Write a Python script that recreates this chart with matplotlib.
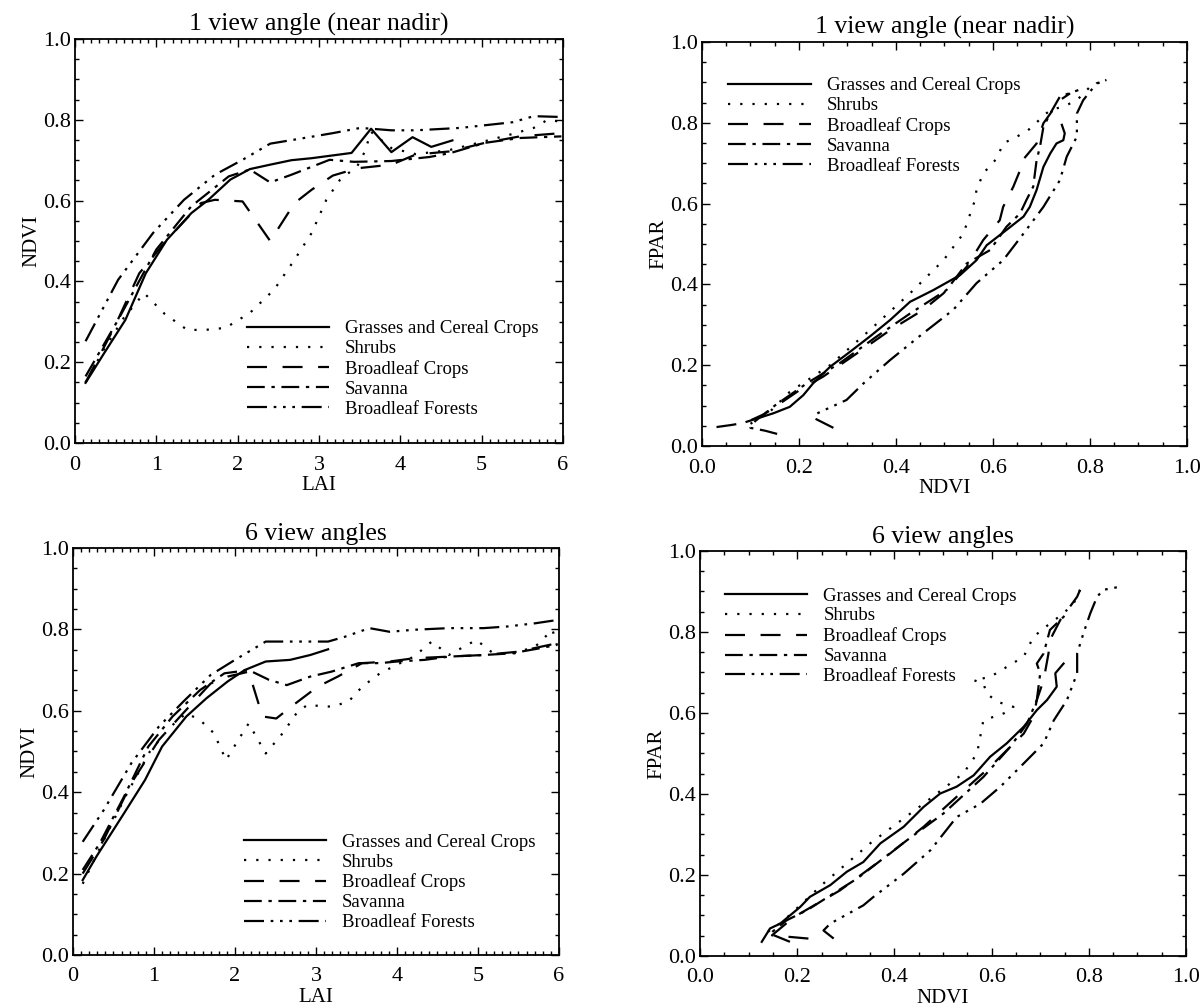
import matplotlib
matplotlib.use("Agg")
import matplotlib.pyplot as plt
from matplotlib.ticker import MultipleLocator, FormatStrFormatter

plt.rcParams['font.family'] = ['Liberation Serif', 'DejaVu Serif']

labels = ["Grasses and Cereal Crops", "Shrubs", "Broadleaf Crops", "Savanna", "Broadleaf Forests"]

# --- 1 view angle: NDVI vs LAI ---
nadir_lai_grass = [0.13, 0.36, 0.62, 0.87, 1.13, 1.43, 1.64, 1.91, 2.15, 2.40, 2.66, 2.91, 3.40, 3.64, 3.89, 4.15, 4.38, 4.64]
nadir_ndvi_grass = [0.149, 0.223, 0.305, 0.42, 0.503, 0.569, 0.602, 0.652, 0.678, 0.689, 0.70, 0.705, 0.718, 0.778, 0.72, 0.757, 0.733, 0.749]
nadir_lai_shrub = [0.13, 0.35, 0.6, 0.85, 1.1, 1.38, 1.6, 1.85, 2.15, 2.45, 2.70, 2.91, 3.09, 3.26, 3.47, 3.56, 3.64, 3.89, 4.19, 4.6, 5.0, 5.38, 5.64, 5.81, 5.98]
nadir_ndvi_shrub = [0.15, 0.23, 0.31, 0.371, 0.32, 0.28, 0.28, 0.285, 0.322, 0.38, 0.454, 0.52, 0.602, 0.652, 0.685, 0.72, 0.77, 0.73, 0.715, 0.725, 0.745, 0.765, 0.78, 0.80, 0.795]
nadir_lai_crop = [0.13, 0.49, 0.79, 1.13, 1.55, 1.72, 2.06, 2.40, 2.70, 2.91, 3.17, 3.47, 3.89, 4.19, 4.62, 5.04, 5.47, 5.98]
nadir_ndvi_crop = [0.15, 0.289, 0.42, 0.503, 0.594, 0.602, 0.598, 0.50, 0.594, 0.627, 0.662, 0.68, 0.689, 0.714, 0.722, 0.743, 0.759, 0.767]
nadir_lai_sav = [0.13, 0.53, 1.0, 1.43, 1.89, 2.15, 2.40, 2.66, 3.13, 3.43, 3.89, 4.36, 4.62, 5.04, 5.47, 5.98]
nadir_ndvi_sav = [0.165, 0.305, 0.479, 0.586, 0.66, 0.677, 0.645, 0.664, 0.701, 0.696, 0.698, 0.708, 0.718, 0.743, 0.755, 0.759]
nadir_lai_forest = [0.13, 0.53, 0.96, 1.34, 1.72, 2.06, 2.40, 2.70, 3.17, 3.51, 3.89, 4.19, 4.74, 5.38, 5.64, 5.98]
nadir_ndvi_forest = [0.252, 0.404, 0.52, 0.602, 0.664, 0.701, 0.741, 0.751, 0.767, 0.78, 0.774, 0.774, 0.78, 0.794, 0.809, 0.807]

# --- 1 view angle: FPAR vs NDVI ---
nadir_fx_grass = [0.092, 0.147, 0.181, 0.209, 0.229, 0.264, 0.305, 0.346, 0.388, 0.429, 0.477, 0.532, 0.566, 0.587, 0.628, 0.663, 0.676, 0.69, 0.704, 0.718, 0.731, 0.745, 0.748, 0.742]
nadir_fy_grass = [0.060, 0.081, 0.097, 0.126, 0.155, 0.196, 0.233, 0.271, 0.312, 0.357, 0.386, 0.423, 0.46, 0.497, 0.535, 0.568, 0.592, 0.634, 0.691, 0.724, 0.749, 0.757, 0.774, 0.795]
nadir_fx_shrub = [0.10, 0.14, 0.181, 0.264, 0.346, 0.429, 0.498, 0.539, 0.563, 0.566, 0.58, 0.608, 0.621, 0.669, 0.718, 0.745, 0.773, 0.80, 0.82]
nadir_fy_shrub = [0.055, 0.085, 0.134, 0.2, 0.287, 0.378, 0.46, 0.526, 0.609, 0.634, 0.675, 0.712, 0.749, 0.778, 0.832, 0.84, 0.856, 0.889, 0.90]
nadir_fx_crop = [0.03, 0.06, 0.09, 0.13, 0.202, 0.25, 0.319, 0.388, 0.456, 0.498, 0.546, 0.58, 0.614, 0.621, 0.642, 0.656, 0.656, 0.69, 0.704, 0.738, 0.759]
nadir_fy_crop = [0.047, 0.052, 0.058, 0.08, 0.139, 0.172, 0.229, 0.287, 0.337, 0.378, 0.444, 0.51, 0.559, 0.592, 0.642, 0.683, 0.70, 0.749, 0.799, 0.856, 0.873]
nadir_fx_sav = [0.155, 0.13, 0.10, 0.11, 0.15, 0.216, 0.284, 0.36, 0.429, 0.504, 0.546, 0.594, 0.628, 0.656, 0.669, 0.683, 0.69, 0.697, 0.704, 0.718, 0.738, 0.776]
nadir_fy_sav = [0.03, 0.038, 0.045, 0.062, 0.1, 0.155, 0.205, 0.271, 0.328, 0.386, 0.452, 0.485, 0.543, 0.576, 0.609, 0.642, 0.708, 0.741, 0.79, 0.823, 0.865, 0.881]
nadir_fx_forest = [0.271, 0.233, 0.236, 0.298, 0.333, 0.388, 0.456, 0.518, 0.566, 0.621, 0.663, 0.704, 0.738, 0.752, 0.773, 0.773, 0.786, 0.814, 0.834]
nadir_fy_forest = [0.045, 0.068, 0.08, 0.114, 0.155, 0.213, 0.279, 0.337, 0.403, 0.46, 0.526, 0.592, 0.658, 0.716, 0.766, 0.823, 0.856, 0.898, 0.906]

# --- 6 view angles: NDVI vs LAI ---
multi_lai_grass = [0.12, 0.29, 0.63, 0.89, 1.10, 1.40, 1.65, 1.91, 2.12, 2.38, 2.68, 2.93, 3.15]
multi_ndvi_grass = [0.184, 0.242, 0.348, 0.43, 0.512, 0.586, 0.631, 0.672, 0.70, 0.721, 0.725, 0.737, 0.751]
multi_lai_shrub = [0.12, 0.35, 0.65, 0.95, 1.2, 1.40, 1.57, 1.74, 1.89, 2.04, 2.17, 2.38, 2.59, 2.76, 2.89, 3.19, 3.40, 3.57, 3.79, 4.04, 4.21, 4.43, 4.64, 4.98, 5.19, 5.45, 5.71, 5.92, 5.98]
multi_ndvi_shrub = [0.175, 0.27, 0.39, 0.5, 0.56, 0.594, 0.577, 0.545, 0.479, 0.528, 0.569, 0.495, 0.545, 0.594, 0.614, 0.61, 0.622, 0.659, 0.692, 0.717, 0.733, 0.77, 0.737, 0.774, 0.741, 0.741, 0.758, 0.799, 0.758]
multi_lai_crop = [0.12, 0.38, 0.72, 1.06, 1.36, 1.70, 1.91, 2.17, 2.34, 2.51, 2.72, 3.02, 3.27, 3.57, 3.91, 4.21, 4.64, 5.07, 5.49, 5.98]
multi_ndvi_crop = [0.20, 0.283, 0.422, 0.528, 0.594, 0.667, 0.684, 0.696, 0.586, 0.581, 0.614, 0.659, 0.684, 0.717, 0.721, 0.729, 0.733, 0.737, 0.745, 0.766]
multi_lai_sav = [0.12, 0.33, 0.63, 0.93, 1.23, 1.57, 1.87, 2.17, 2.42, 2.64, 2.93, 3.19, 3.53, 3.79, 4.0, 4.34, 4.64, 5.07, 5.41, 5.75, 5.98]
multi_ndvi_sav = [0.209, 0.274, 0.389, 0.512, 0.586, 0.651, 0.692, 0.70, 0.676, 0.663, 0.684, 0.696, 0.717, 0.717, 0.721, 0.725, 0.733, 0.737, 0.741, 0.753, 0.762]
multi_lai_forest = [0.12, 0.38, 0.72, 1.06, 1.36, 1.70, 2.0, 2.38, 2.68, 3.15, 3.36, 3.66, 3.91, 4.21, 4.64, 5.07, 5.36, 5.71, 5.98]
multi_ndvi_forest = [0.278, 0.356, 0.471, 0.561, 0.622, 0.688, 0.725, 0.77, 0.77, 0.77, 0.782, 0.803, 0.794, 0.799, 0.803, 0.803, 0.807, 0.815, 0.823]

# --- 6 view angles: FPAR vs NDVI ---
multi_fx_grass = [0.127, 0.144, 0.165, 0.206, 0.226, 0.268, 0.302, 0.336, 0.371, 0.419, 0.46, 0.494, 0.528, 0.563, 0.597, 0.631, 0.666, 0.693, 0.714, 0.734, 0.731, 0.748]
multi_fy_grass = [0.035, 0.068, 0.08, 0.121, 0.146, 0.175, 0.208, 0.232, 0.278, 0.319, 0.368, 0.401, 0.418, 0.446, 0.492, 0.525, 0.566, 0.607, 0.632, 0.665, 0.698, 0.722]
multi_fx_shrub = [0.14, 0.17, 0.254, 0.35, 0.46, 0.542, 0.57, 0.583, 0.625, 0.645, 0.611, 0.59, 0.583, 0.563, 0.597, 0.666, 0.686, 0.72, 0.748, 0.769, 0.782]
multi_fy_shrub = [0.06, 0.085, 0.179, 0.278, 0.376, 0.451, 0.50, 0.582, 0.599, 0.615, 0.628, 0.648, 0.673, 0.681, 0.689, 0.739, 0.788, 0.821, 0.846, 0.871, 0.904]
multi_fx_crop = [0.223, 0.148, 0.185, 0.206, 0.288, 0.391, 0.46, 0.528, 0.597, 0.638, 0.666, 0.686, 0.693, 0.707, 0.717, 0.72, 0.741, 0.776, 0.782]
multi_fy_crop = [0.043, 0.051, 0.088, 0.105, 0.162, 0.253, 0.319, 0.393, 0.467, 0.516, 0.549, 0.591, 0.632, 0.681, 0.747, 0.78, 0.829, 0.887, 0.904]
multi_fx_sav = [0.185, 0.144, 0.178, 0.22, 0.323, 0.426, 0.501, 0.583, 0.638, 0.673, 0.693, 0.70, 0.693, 0.707, 0.72, 0.752, 0.76]
multi_fy_sav = [0.035, 0.055, 0.088, 0.113, 0.191, 0.286, 0.352, 0.442, 0.516, 0.574, 0.632, 0.698, 0.722, 0.747, 0.805, 0.842, 0.85]
multi_fx_forest = [0.275, 0.254, 0.268, 0.336, 0.357, 0.419, 0.474, 0.528, 0.577, 0.618, 0.659, 0.707, 0.728, 0.755, 0.776, 0.776, 0.789, 0.803, 0.817, 0.83, 0.865]
multi_fy_forest = [0.043, 0.063, 0.08, 0.125, 0.146, 0.203, 0.261, 0.343, 0.376, 0.418, 0.467, 0.525, 0.582, 0.632, 0.698, 0.747, 0.797, 0.846, 0.887, 0.904, 0.912]

styles = [
    '-',
    (0, (1.0, 4.5)),
    (0, (9, 7)),
    (0, (8, 3, 1.5, 3)),
    (0, (9, 3, 1.2, 3, 1.2, 3, 1.2, 3)),
]


def draw_panel(ax, xs, ys, title, xlabel, ylabel, xmax, xmajor, xminor, xfmt, leg_anchor):
    for x, y, lab, ls in zip(xs, ys, labels, styles):
        ax.plot(x, y, color='black', lw=1.6, linestyle=ls, label=lab)
    ax.set_xlim(0, xmax)
    ax.set_ylim(0, 1)
    ax.xaxis.set_major_locator(MultipleLocator(xmajor))
    ax.xaxis.set_minor_locator(MultipleLocator(xminor))
    ax.xaxis.set_major_formatter(FormatStrFormatter(xfmt))
    ax.yaxis.set_major_locator(MultipleLocator(0.2))
    ax.yaxis.set_minor_locator(MultipleLocator(0.05))
    ax.yaxis.set_major_formatter(FormatStrFormatter('%.1f'))
    ax.tick_params(which='both', direction='in', top=True, right=True, width=1.0)
    ax.tick_params(which='major', length=6)
    ax.tick_params(which='minor', length=3)
    ax.tick_params(axis='x', which='major', pad=9, labelsize=16)
    ax.tick_params(axis='y', which='major', pad=3, labelsize=16)
    for sp in ax.spines.values():
        sp.set_linewidth(1.3)
    ax.set_title(title, fontsize=18.5, pad=6)
    ax.set_xlabel(xlabel, fontsize=15, labelpad=1)
    ax.set_ylabel(ylabel, fontsize=15, labelpad=1)
    ax.legend(loc='upper left', bbox_to_anchor=leg_anchor, frameon=False, fontsize=13.5,
              handlelength=4.4, handletextpad=0.85, labelspacing=0.15, borderpad=0, borderaxespad=0)


fig = plt.figure(figsize=(12.02, 10.08), dpi=100)
ax_tl = fig.add_axes([0.0624, 0.5605, 0.4060, 0.4008])
ax_tr = fig.add_axes([0.5840, 0.5575, 0.4035, 0.4008])
ax_bl = fig.add_axes([0.0607, 0.0526, 0.4043, 0.4038])
ax_br = fig.add_axes([0.5824, 0.0516, 0.4043, 0.4018])

draw_panel(ax_tl,
           [nadir_lai_grass, nadir_lai_shrub, nadir_lai_crop, nadir_lai_sav, nadir_lai_forest],
           [nadir_ndvi_grass, nadir_ndvi_shrub, nadir_ndvi_crop, nadir_ndvi_sav, nadir_ndvi_forest],
           "1 view angle (near nadir)", "LAI", "NDVI", 6, 1, 0.1, '%d', (0.352, 0.304))
draw_panel(ax_tr,
           [nadir_fx_grass, nadir_fx_shrub, nadir_fx_crop, nadir_fx_sav, nadir_fx_forest],
           [nadir_fy_grass, nadir_fy_shrub, nadir_fy_crop, nadir_fy_sav, nadir_fy_forest],
           "1 view angle (near nadir)", "NDVI", "FPAR", 1, 0.2, 0.05, '%.1f', (0.054, 0.913))
draw_panel(ax_bl,
           [multi_lai_grass, multi_lai_shrub, multi_lai_crop, multi_lai_sav, multi_lai_forest],
           [multi_ndvi_grass, multi_ndvi_shrub, multi_ndvi_crop, multi_ndvi_sav, multi_ndvi_forest],
           "6 view angles", "LAI", "NDVI", 6, 1, 0.1, '%d', (0.351, 0.298))
draw_panel(ax_br,
           [multi_fx_grass, multi_fx_shrub, multi_fx_crop, multi_fx_sav, multi_fx_forest],
           [multi_fy_grass, multi_fy_shrub, multi_fy_crop, multi_fy_sav, multi_fy_forest],
           "6 view angles", "NDVI", "FPAR", 1, 0.2, 0.05, '%.1f', (0.051, 0.91))

fig.savefig("out.png", dpi=100)
